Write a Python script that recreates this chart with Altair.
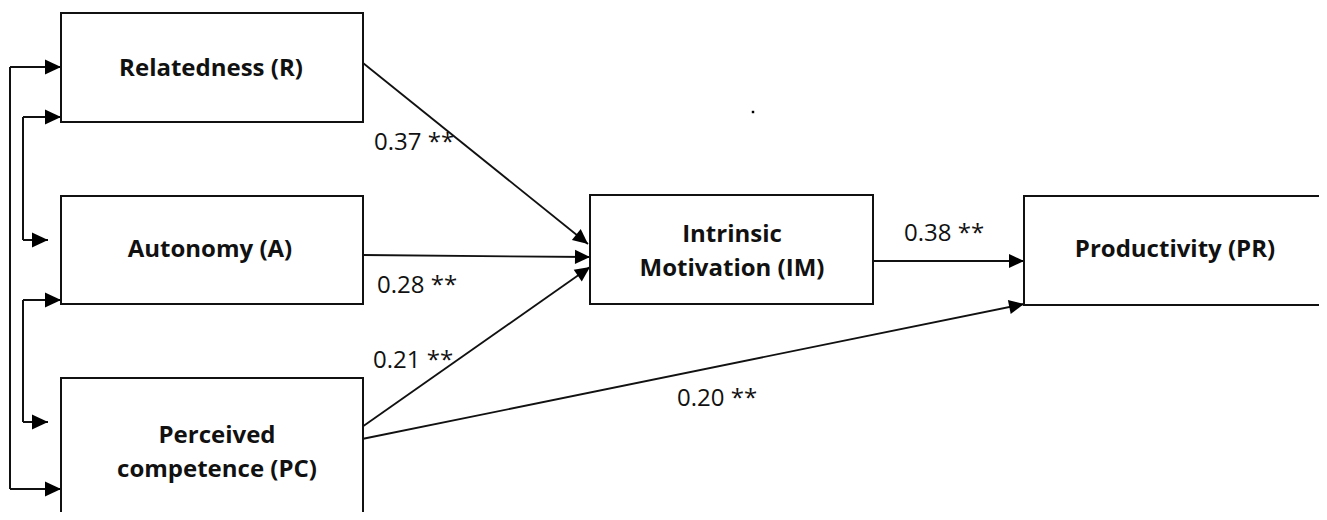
import math
import altair as alt
import pandas as pd

# ---- nodes (page pixel coordinates) ----
box_names = ["R", "A", "PC", "IM", "PR"]
box_left = [61, 61, 61, 590, 1024]
box_right = [363, 363, 363, 873, 1326]
box_top = [13, 196, 378, 195, 196]
box_bottom = [122, 304, 545, 304, 305]

box_labels = ["Relatedness (R)", "Autonomy (A)", "Perceived\ncompetence (PC)",
              "Intrinsic\nMotivation (IM)", "Productivity (PR)"]
label_x = [211, 210, 217, 732, 1175]
label_y = [69, 250, 436, 235, 250]

# ---- structural paths (coefficients) ----
path_x1 = [363, 363, 362, 873, 362]
path_y1 = [63, 255, 427, 261, 439]
path_x2 = [588, 590, 590, 1024, 1024]
path_y2 = [244, 257, 267, 261, 304]
coef_text = ["0.37 **", "0.28 **", "0.21 **", "0.38 **", "0.20 **"]
coef_x = [374, 377, 373, 904, 677]
coef_y = [143, 286, 361, 234, 399]

# ---- correlation connectors on the left ----
conn_x1 = [10, 10, 10, 23, 23, 23, 23, 23, 23]
conn_y1 = [67, 67, 489, 117, 117, 240, 300, 300, 422]
conn_x2 = [10, 61, 61, 23, 61, 48, 23, 61, 48]
conn_y2 = [489, 67, 489, 240, 117, 240, 422, 300, 422]
conn_arrow = [False, True, True, False, True, True, False, True, True]

# stray dot
dot_x = [753]
dot_y = [112]

W, H = 1311, 504
X = alt.Scale(domain=[8, 8 + W], range=[0, W], nice=False, zero=False)
Y = alt.Scale(domain=[8, 8 + H], range=[0, H], nice=False, zero=False)

boxes = pd.DataFrame({"name": box_names, "x1": box_left, "x2": box_right,
                      "y1": box_top, "y2": box_bottom})
labels = pd.DataFrame({"text": box_labels, "x": label_x, "y": label_y})
paths = pd.DataFrame({"x1": path_x1, "y1": path_y1, "x2": path_x2, "y2": path_y2})
coefs = pd.DataFrame({"text": coef_text, "x": coef_x, "y": coef_y})
conns = pd.DataFrame({"x1": conn_x1, "y1": conn_y1, "x2": conn_x2, "y2": conn_y2,
                      "arrow": conn_arrow})
dots = pd.DataFrame({"x": dot_x, "y": dot_y})


def heads(df):
    ang = [(math.degrees(math.atan2(b2 - b1, a2 - a1)) + 360) % 360
           for a1, b1, a2, b2 in zip(df.x1, df.y1, df.x2, df.y2)]
    return pd.DataFrame({"x": list(df.x2), "y": list(df.y2), "angle": ang})


path_heads = heads(paths)
conn_heads = heads(conns[conns.arrow])

ARROW = "M0,0 L-1,-0.47 L-1,0.47 Z"

box_layer = alt.Chart(boxes).mark_rect(fill="white", stroke="#111111", strokeWidth=2).encode(
    x=alt.X("x1:Q", scale=X, axis=None), x2="x2:Q",
    y=alt.Y("y1:Q", scale=Y, axis=None), y2="y2:Q")

label_layer = alt.Chart(labels).mark_text(
    font="Open Sans", fontWeight="bold", fontSize=24, lineBreak="\n", lineHeight=34,
    align="center", baseline="middle", color="#111111").encode(
    x=alt.X("x:Q", scale=X, axis=None), y=alt.Y("y:Q", scale=Y, axis=None), text="text:N")

path_layer = alt.Chart(paths).mark_rule(color="#111111", strokeWidth=1.8).encode(
    x=alt.X("x1:Q", scale=X, axis=None), x2="x2:Q",
    y=alt.Y("y1:Q", scale=Y, axis=None), y2="y2:Q")

path_head_layer = alt.Chart(path_heads).mark_point(
    shape=ARROW, filled=True, size=900, color="#000000", opacity=1).encode(
    x=alt.X("x:Q", scale=X, axis=None), y=alt.Y("y:Q", scale=Y, axis=None),
    angle=alt.Angle("angle:Q", scale=None))

conn_layer = alt.Chart(conns).mark_rule(color="#111111", strokeWidth=2).encode(
    x=alt.X("x1:Q", scale=X, axis=None), x2="x2:Q",
    y=alt.Y("y1:Q", scale=Y, axis=None), y2="y2:Q")

conn_head_layer = alt.Chart(conn_heads).mark_point(
    shape=ARROW, filled=True, size=1024, color="#000000", opacity=1).encode(
    x=alt.X("x:Q", scale=X, axis=None), y=alt.Y("y:Q", scale=Y, axis=None),
    angle=alt.Angle("angle:Q", scale=None))

coef_layer = alt.Chart(coefs).mark_text(
    font="Open Sans", fontSize=24, align="left", baseline="middle", color="#111111").encode(
    x=alt.X("x:Q", scale=X, axis=None), y=alt.Y("y:Q", scale=Y, axis=None), text="text:N")

dot_layer = alt.Chart(dots).mark_point(shape="square", filled=True, size=6,
                                        color="#000000", opacity=1).encode(
    x=alt.X("x:Q", scale=X, axis=None), y=alt.Y("y:Q", scale=Y, axis=None))

chart = alt.layer(
    conn_layer, conn_head_layer, path_layer, path_head_layer,
    box_layer, label_layer, coef_layer, dot_layer
).properties(
    width=W, height=H, padding=0, autosize=alt.AutoSizeParams(type="none"),
    background="white"
).configure_view(stroke=None)

chart.save("out.html", embed_options={"renderer": "svg", "actions": False})
